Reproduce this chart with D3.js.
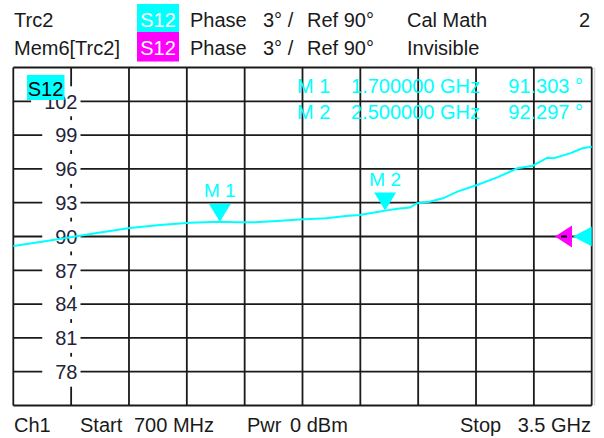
<!DOCTYPE html>
<html><head><meta charset="utf-8">
<script src="https://cdn.jsdelivr.net/npm/d3@7/dist/d3.min.js"></script>
<style>
html,body{margin:0;padding:0;background:#fff;}
svg{display:block;font-family:"Liberation Sans",Arial,sans-serif;}
text{white-space:pre;}
</style></head>
<body><svg id="c" width="604" height="438"></svg>
<script>
// ---- data ----
const freqGHz = [0.70,0.83,0.97,1.12,1.265,1.41,1.555,1.70,1.775,1.87,1.975,2.085,2.215,2.31,2.375,2.47,2.50,2.57,2.62,2.655,2.715,2.78,2.85,2.945,3.04,3.14,3.215,3.285,3.315,3.395,3.455,3.50];
const phaseDeg = [89.16,89.51,89.91,90.35,90.75,91.02,91.22,91.303,91.26,91.26,91.38,91.51,91.61,91.82,91.91,92.20,92.297,92.48,92.57,92.95,93.09,93.39,93.98,94.57,95.22,96.05,96.28,96.99,96.94,97.38,97.83,97.97];
const yTickLabels = [78,81,84,87,90,93,96,99,102];
const markerNames = ["M 1","M 2"];
const markerFreq = [1.7,2.5];
const markerVal = [91.303,92.297];
const refValue = 90;
const startGHz = 0.7, stopGHz = 3.5, yMin = 75, yMax = 105;

const CYAN = "#00ffff", MAG = "#ff00ff", INK = "#1a1a1a";
const svg = d3.select("#c");
const L = 13.3, R = 591.7, T = 67.5, B = 405.5;
const x = d3.scaleLinear().domain([startGHz, stopGHz]).range([L, R]);
const y = d3.scaleLinear().domain([yMin, yMax]).range([B, T]);

// ---- header ----
const hdr = svg.append("g").attr("font-size", 20).attr("fill", INK);
function t(g, s, px, py, anchor, fill) {
  return g.append("text").attr("x", px).attr("y", py).attr("text-anchor", anchor || "start")
    .attr("fill", fill || INK).text(s);
}
[["Trc2", CYAN, "Cal Math", 26.5, 4], ["Mem6[Trc2]", MAG, "Invisible", 54.5, 32]].forEach(r => {
  t(hdr, r[0], 14, r[3]);
  hdr.append("rect").attr("x", 137).attr("y", r[4]).attr("width", 42).attr("height", r[4] === 4 ? 28 : 29.5).attr("fill", r[1]);
  t(hdr, "S12", 158, r[3], "middle", "#fff");
  t(hdr, "Phase", 190, r[3]);
  t(hdr, "3° /", 263, r[3]);
  t(hdr, "Ref 90°", 307, r[3]);
  t(hdr, r[2], 407, r[3]);
});
t(hdr, "2", 590, 26.5, "end");

// ---- grid ----
const grid = svg.append("g").attr("stroke", INK).attr("stroke-width", 1.8);
const xDiv = d3.range(0, 11).map(i => startGHz + i * (stopGHz - startGHz) / 10);
const yDiv = d3.range(0, 11).map(i => yMin + i * 3);
grid.selectAll(".v").data(xDiv).join("line")
  .attr("x1", d => x(d)).attr("x2", d => x(d)).attr("y1", T).attr("y2", B);
grid.selectAll(".h").data(yDiv).join("line")
  .attr("x1", L).attr("x2", R).attr("y1", d => y(d)).attr("y2", d => y(d));
svg.append("line").attr("x1", 594.5).attr("x2", 594.5).attr("y1", T).attr("y2", B)
  .attr("stroke", "#d8d8d8").attr("stroke-width", 1.5);

// ---- y labels with white masks ----
const lab = svg.append("g").attr("font-size", 20).attr("fill", "#23233a");
yTickLabels.forEach(v => {
  const tx = lab.append("text").attr("x", 77.5).attr("y", y(v) + 7.2).attr("text-anchor", "end").text(v);
  const w = tx.node().getComputedTextLength();
  lab.insert("rect", "text").attr("x", 77.5 - w - 13).attr("y", y(v) - 15)
    .attr("width", w + 16).attr("height", 30).attr("fill", "#fff");
});

// ---- S12 trace tag ----
svg.append("rect").attr("x", 27).attr("y", 75).attr("width", 37.5).attr("height", 25).attr("fill", CYAN);
svg.append("text").attr("x", 45.5).attr("y", 96).attr("text-anchor", "middle")
  .attr("font-size", 20).attr("fill", "#000").text("S12");

// ---- trace ----
const line = d3.line().x((d, i) => x(freqGHz[i])).y(d => y(d));
svg.append("path").datum(phaseDeg).attr("d", line).attr("fill", "none")
  .attr("stroke", CYAN).attr("stroke-width", 2);

// ---- markers ----
const mk = svg.append("g");
markerNames.forEach((m, i) => {
  const mx = x(markerFreq[i]), my = y(markerVal[i]);
  mk.append("path").attr("d", `M${mx - 11},${my - 18}L${mx + 11},${my - 18}L${mx},${my}Z`).attr("fill", CYAN);
  mk.append("text").attr("x", mx).attr("y", my - 25).attr("text-anchor", "middle")
    .attr("font-size", 19).attr("fill", CYAN).text(m);
});

// ---- marker table ----
const mt = svg.append("g").attr("font-size", 20).attr("fill", CYAN);
markerNames.forEach((m, i) => {
  const by = 92.5 + i * 26.5;
  t(mt, m, 297, by, "start", CYAN);
  t(mt, markerFreq[i].toFixed(6) + " GHz", 480, by, "end", CYAN);
  t(mt, markerVal[i].toFixed(3) + " °", 583, by, "end", CYAN);
});

// ---- reference markers on right ----
const clip = svg.append("clipPath").attr("id", "pc").append("rect")
  .attr("x", L).attr("y", T).attr("width", R - L).attr("height", B - T);
const ry = y(refValue);
svg.append("path").attr("d", `M555,${ry}L572,${ry - 11}L572,${ry + 11}Z`).attr("fill", MAG);
svg.append("line").attr("x1", 561).attr("x2", 567).attr("y1", ry).attr("y2", ry)
  .attr("stroke", "#000").attr("stroke-width", 2);
svg.append("path").attr("clip-path", "url(#pc)")
  .attr("d", `M573,${ry}L596,${ry - 12}L596,${ry + 12}Z`).attr("fill", CYAN);

// ---- footer ----
const ft = svg.append("g").attr("font-size", 20);
t(ft, "Ch1", 14, 432);
t(ft, "Start", 80, 432);
t(ft, "700 MHz", 134, 432);
t(ft, "Pwr", 247, 432);
t(ft, "0 dBm", 290, 432);
t(ft, "Stop", 460, 432);
t(ft, "3.5 GHz", 591, 432, "end");
</script></body></html>
